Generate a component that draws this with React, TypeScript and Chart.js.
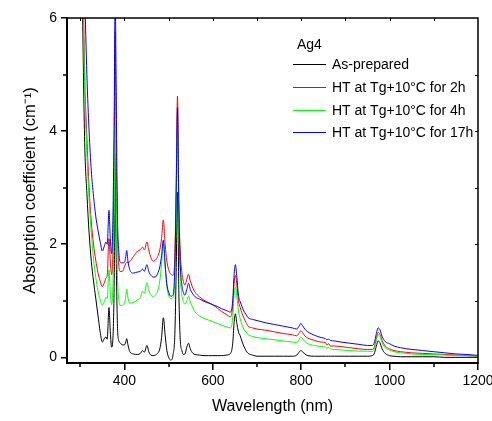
import { useEffect, useRef } from "react";
import { Chart, registerables } from "chart.js";

Chart.register(...registerables);

// ---------- data ----------
const wavelengths = [
  300, 305, 310, 315, 320, 325, 330, 335, 340, 345,
  350, 355, 358, 361, 365, 368, 371, 374, 377, 379,
  381, 384, 387, 390, 395, 400, 403, 405, 408, 412,
  420, 430, 436, 441, 445, 451, 455, 460, 465, 470,
  475, 480, 484, 488, 492, 496, 500, 505, 510, 514,
  517, 520, 523, 526, 530, 534, 537, 541, 545, 549,
  555, 560, 570, 580, 590, 600, 610, 620, 630, 640,
  645, 648, 651, 654, 658, 662, 666, 670, 675, 680,
  690, 700, 720, 740, 760, 780, 790, 795, 799, 803,
  808, 815, 830, 845, 855, 858, 862, 866, 875, 890,
  910, 930, 950, 960, 965, 970, 974, 978, 983, 990,
  1000, 1010, 1025, 1050, 1075, 1100, 1125, 1150, 1175, 1200,
];

const asPrepared = [
  9, 6.2, 3.8, 2.9, 2.2, 1.7, 1.35, 1.05, 0.75, 0.45,
  0.27, 0.34, 0.36, 0.32, 0.88, 0.45, 0.18, 0.35, 1.5, 3.6,
  2.0, 0.6, 0.3, 0.26, 0.22, 0.22, 0.27, 0.33, 0.22, 0.1,
  0.06, 0.05, 0.07, 0.12, 0.09, 0.21, 0.1, 0.04, 0.03, 0.04,
  0.07, 0.15, 0.35, 0.7, 0.4, 0.12, 0.0, -0.05, 0.05, 0.4,
  1.5, 2.92, 1.2, 0.35, 0.12, 0.05, 0.06, 0.18, 0.25, 0.15,
  0.07, 0.05, 0.04, 0.03, 0.03, 0.03, 0.03, 0.03, 0.04, 0.07,
  0.25, 0.6, 0.77, 0.62, 0.45, 0.38, 0.28, 0.2, 0.12, 0.07,
  0.04, 0.02, 0.02, 0.02, 0.02, 0.02, 0.04, 0.09, 0.12, 0.1,
  0.06, 0.03, 0.02, 0.02, 0.02, 0.02, 0.02, 0.02, 0.02, 0.02,
  0.02, 0.02, 0.02, 0.03, 0.06, 0.2, 0.29, 0.26, 0.15, 0.07,
  0.03, 0.02, 0.01, 0.01, 0.01, 0.01, 0.0, 0.0, 0.0, 0.0,
];

const ht2h = [
  10, 7.5, 5.0, 3.9, 3.0, 2.4, 2.0, 1.72, 1.5, 1.35,
  1.25, 1.33, 1.4, 1.45, 2.1, 1.7, 1.46, 1.9, 3.6, 5.75,
  4.0, 2.2, 1.65, 1.52, 1.52, 1.6, 1.66, 1.68, 1.68, 1.69,
  1.78, 1.88, 1.9, 1.95, 1.9, 2.04, 1.9, 1.76, 1.7, 1.72,
  1.78, 1.9, 2.1, 2.43, 2.0, 1.7, 1.55, 1.47, 1.45, 1.8,
  3.0, 4.62, 2.8, 1.9, 1.5, 1.32, 1.28, 1.38, 1.47, 1.35,
  1.22, 1.15, 1.07, 1.01, 0.97, 0.93, 0.87, 0.81, 0.76, 0.72,
  0.9, 1.3, 1.45, 1.3, 1.0, 0.88, 0.78, 0.7, 0.62, 0.55,
  0.52, 0.5, 0.48, 0.45, 0.42, 0.4, 0.38, 0.43, 0.47, 0.44,
  0.38, 0.34, 0.3, 0.27, 0.26, 0.22, 0.24, 0.2, 0.2, 0.19,
  0.17, 0.15, 0.14, 0.14, 0.17, 0.33, 0.44, 0.41, 0.3, 0.2,
  0.15, 0.12, 0.1, 0.08, 0.07, 0.06, 0.05, 0.04, 0.03, 0.02,
];

const ht4h = [
  10, 7.0, 4.8, 3.6, 2.8, 2.2, 1.75, 1.42, 1.18, 1.02,
  0.92, 1.0, 1.06, 1.04, 1.55, 1.15, 0.93, 1.3, 2.6, 4.1,
  3.0, 1.5, 1.05, 0.92, 0.92, 0.96, 1.08, 1.21, 1.05, 0.96,
  0.97, 1.02, 1.06, 1.17, 1.13, 1.32, 1.18, 1.1, 1.07, 1.1,
  1.17, 1.35, 1.65, 2.01, 1.6, 1.25, 1.1, 1.04, 1.06, 1.4,
  2.6, 4.0, 2.4, 1.5, 1.1, 0.97, 0.94, 1.0, 1.08, 0.98,
  0.87, 0.8, 0.73, 0.69, 0.66, 0.63, 0.6, 0.57, 0.54, 0.52,
  0.7, 1.1, 1.24, 1.1, 0.82, 0.68, 0.58, 0.5, 0.45, 0.4,
  0.37, 0.35, 0.33, 0.31, 0.29, 0.27, 0.26, 0.31, 0.36, 0.33,
  0.28, 0.24, 0.21, 0.19, 0.18, 0.16, 0.18, 0.15, 0.14, 0.13,
  0.12, 0.11, 0.11, 0.1, 0.14, 0.3, 0.4, 0.37, 0.26, 0.17,
  0.13, 0.1, 0.08, 0.06, 0.05, 0.05, 0.04, 0.03, 0.03, 0.02,
];

const ht17h = [
  11, 8.5, 6.5, 5.0, 4.0, 3.3, 2.85, 2.5, 2.25, 2.05,
  1.88, 1.98, 2.04, 2.0, 2.6, 2.1, 1.83, 2.5, 4.5, 6.5,
  5.0, 2.6, 1.9, 1.69, 1.67, 1.68, 1.78, 1.89, 1.7, 1.55,
  1.49, 1.51, 1.52, 1.56, 1.52, 1.64, 1.52, 1.45, 1.42, 1.42,
  1.48, 1.6, 1.8, 2.07, 1.65, 1.3, 1.15, 1.08, 1.1, 1.6,
  2.9, 4.42, 2.7, 1.7, 1.28, 1.13, 1.1, 1.2, 1.31, 1.2,
  1.12, 1.07, 1.03, 0.99, 0.96, 0.93, 0.9, 0.86, 0.83, 0.8,
  1.0, 1.45, 1.64, 1.45, 1.1, 0.98, 0.9, 0.82, 0.76, 0.7,
  0.67, 0.65, 0.61, 0.58, 0.55, 0.52, 0.5, 0.55, 0.6, 0.56,
  0.5, 0.45, 0.39, 0.35, 0.33, 0.31, 0.32, 0.3, 0.29, 0.27,
  0.25, 0.23, 0.21, 0.21, 0.25, 0.42, 0.52, 0.49, 0.37, 0.28,
  0.24, 0.2, 0.17, 0.14, 0.12, 0.1, 0.08, 0.06, 0.05, 0.035,
];

const seriesValues = [asPrepared, ht2h, ht4h, ht17h];
const seriesLabels = [
  "As-prepared",
  "HT at Tg+10°C for 2h",
  "HT at Tg+10°C for 4h",
  "HT at Tg+10°C for 17h",
];
const seriesColors = ["#000000", "#ff0000", "#00ff00", "#0000ff"];
const legendTitle = "Ag4";

const xMajorTicks = [400, 600, 800, 1000, 1200];
const xMinorTicks = [300, 500, 700, 900, 1100];
const xTopTicks = [300, 400, 500, 600, 700, 800, 900, 1000, 1100];
const yMajorTicks = [0, 2, 4, 6];
const yMinorTicks = [1, 3, 5];
const yRightTicks = [1, 2, 3, 4, 5];

const xTitle = "Wavelength (nm)";
const yTitle = "Absorption coefficient (cm\u207B\u00B9)";

const FONT = '"Liberation Sans", Arial, Helvetica, sans-serif';

// ---------- plugins ----------
const framePlugin = {
  id: "frame",
  afterDraw(chart: any) {
    const { ctx, chartArea } = chart;
    const xs = chart.scales.x;
    const ys = chart.scales.y;
    const { left, right, top, bottom } = chartArea;
    ctx.save();
    ctx.strokeStyle = "#000";
    // top & right frame
    ctx.lineWidth = 1.5;
    ctx.beginPath();
    ctx.moveTo(left - 1, top);
    ctx.lineTo(right, top);
    ctx.lineTo(right, bottom + 1);
    ctx.stroke();
    // top inward ticks
    ctx.lineWidth = 1;
    ctx.beginPath();
    for (const v of xTopTicks) {
      const px = Math.round(xs.getPixelForValue(v)) + 0.5;
      ctx.moveTo(px, top);
      ctx.lineTo(px, top + 3);
    }
    // right inward ticks
    for (const v of yRightTicks) {
      const py = Math.round(ys.getPixelForValue(v)) + 0.5;
      ctx.moveTo(right, py);
      ctx.lineTo(right - 3, py);
    }
    ctx.stroke();
    // minor outward ticks
    ctx.lineWidth = 1.5;
    ctx.beginPath();
    for (const v of xMinorTicks) {
      const px = Math.round(xs.getPixelForValue(v));
      ctx.moveTo(px, bottom);
      ctx.lineTo(px, bottom + 4);
    }
    for (const v of yMinorTicks) {
      const py = Math.round(ys.getPixelForValue(v));
      ctx.moveTo(left, py);
      ctx.lineTo(left - 4, py);
    }
    ctx.stroke();

    // legend
    ctx.fillStyle = "#000";
    ctx.font = `14px ${FONT}`;
    ctx.textBaseline = "alphabetic";
    ctx.textAlign = "left";
    ctx.fillText(legendTitle, 297, 48.5);
    seriesLabels.forEach((label, i) => {
      const cy = 64.3 + i * 22.7;
      ctx.strokeStyle = seriesColors[i];
      ctx.lineWidth = 1;
      ctx.beginPath();
      ctx.moveTo(293, Math.round(cy) + 0.5);
      ctx.lineTo(326, Math.round(cy) + 0.5);
      ctx.stroke();
      ctx.fillText(label, 332, cy + 5);
    });
    ctx.restore();
  },
};

export default function App() {
  const canvasRef = useRef<HTMLCanvasElement>(null);

  useEffect(() => {
    const canvas = canvasRef.current;
    if (!canvas) return;
    Chart.defaults.font.family = FONT;
    Chart.defaults.color = "#000";

    const datasets = seriesValues.map((vals, i) => ({
      label: seriesLabels[i],
      data: wavelengths.map((w, j) => ({ x: w, y: vals[j] })),
      borderColor: seriesColors[i],
      backgroundColor: seriesColors[i],
      borderWidth: 1,
      pointRadius: 0,
      fill: false,
      cubicInterpolationMode: "monotone" as const,
      order: seriesValues.length - 1 - i,
    }));

    const chart = new Chart(canvas, {
      type: "line",
      data: { datasets },
      options: {
        responsive: false,
        animation: false,
        events: [],
        layout: { padding: { top: 18, right: 14, left: 0, bottom: 0 } },
        plugins: {
          legend: { display: false },
          tooltip: { enabled: false },
        },
        scales: {
          x: {
            type: "linear",
            position: "bottom",
            min: 270,
            max: 1200,
            afterBuildTicks: (scale: any) => {
              scale.ticks = xMajorTicks.map((v) => ({ value: v }));
            },
            afterFit: (scale: any) => {
              scale.height = 58;
              scale.paddingLeft = 0;
              scale.paddingRight = 0;
            },
            ticks: {
              font: { size: 14 },
              color: "#000",
              padding: 3,
              maxRotation: 0,
              autoSkip: false,
              callback: (v: any) => String(v),
            },
            grid: {
              display: true,
              drawOnChartArea: false,
              drawTicks: true,
              tickLength: 7,
              color: "#000",
              lineWidth: 1.5,
            },
            border: { display: true, color: "#000", width: 2 },
            title: {
              display: true,
              text: xTitle,
              font: { size: 16 },
              color: "#000",
              padding: { top: 0, bottom: 5 },
            },
          },
          y: {
            type: "linear",
            position: "left",
            min: -0.1,
            max: 6,
            afterBuildTicks: (scale: any) => {
              scale.ticks = yMajorTicks.map((v) => ({ value: v }));
            },
            afterFit: (scale: any) => {
              scale.width = 67;
              scale.paddingTop = 0;
              scale.paddingBottom = 0;
            },
            ticks: {
              font: { size: 14 },
              color: "#000",
              padding: 4,
              callback: (v: any) => String(v),
            },
            grid: {
              display: true,
              drawOnChartArea: false,
              drawTicks: true,
              tickLength: 6,
              color: "#000",
              lineWidth: 1.5,
            },
            border: { display: true, color: "#000", width: 2 },
            title: {
              display: true,
              text: yTitle,
              font: { size: 16.5 },
              color: "#000",
              padding: { top: 21, bottom: 0 },
            },
          },
        },
      },
      plugins: [framePlugin],
    });

    return () => chart.destroy();
  }, []);

  return (
    <div
      style={{
        position: "fixed",
        left: 0,
        top: 0,
        width: 492,
        height: 421,
        background: "#fff",
      }}
    >
      <canvas ref={canvasRef} width={492} height={421} style={{ display: "block" }} />
    </div>
  );
}
